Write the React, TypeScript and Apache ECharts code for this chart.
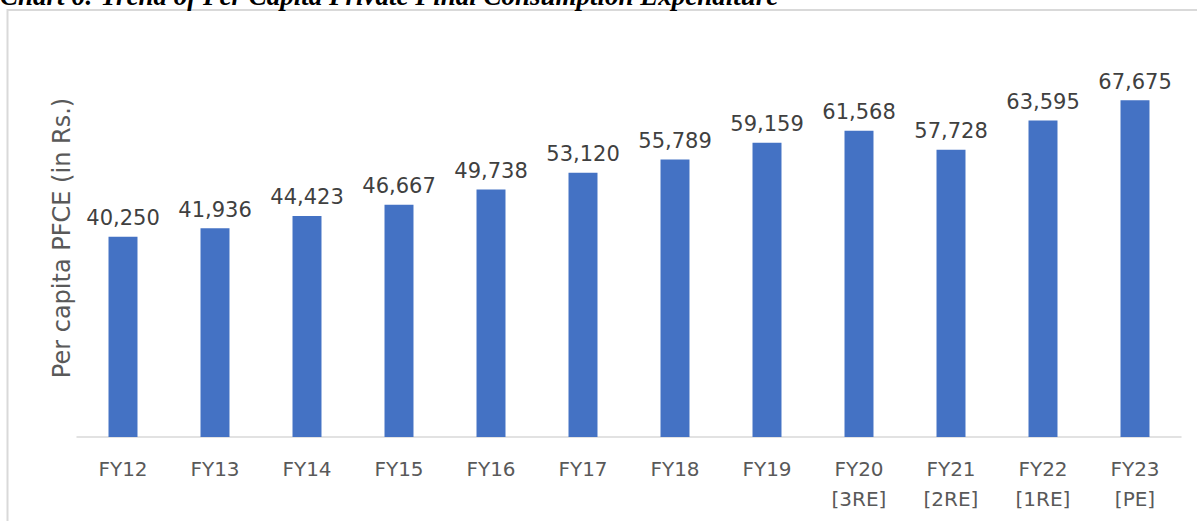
import React, { useEffect, useRef } from "react";
import * as echarts from "echarts";

const categories = ["FY12", "FY13", "FY14", "FY15", "FY16", "FY17", "FY18", "FY19", "FY20\n[3RE]", "FY21\n[2RE]", "FY22\n[1RE]", "FY23\n[PE]"];
const pfce = [40250, 41936, 44423, 46667, 49738, 53120, 55789, 59159, 61568, 57728, 63595, 67675];
const titleText = "Chart 6: Trend of Per Capita Private Final Consumption Expenditure";
const yName = "Per capita PFCE (in Rs.)";

const FONT = "'DejaVu Sans', Tahoma, sans-serif";

export default function App() {
  const ref = useRef<HTMLDivElement>(null);
  useEffect(() => {
    if (!ref.current) return;
    const chart = echarts.init(ref.current, undefined, { renderer: "svg" });
    chart.setOption({
      animation: false,
      backgroundColor: "#ffffff",
      graphic: [
        {
          type: "rect",
          shape: { x: 7.5, y: 10, width: 1300, height: 700 },
          style: { fill: "none", stroke: "#d9d9d9", lineWidth: 2 },
          silent: true,
        },
        {
          type: "text",
          x: 0,
          y: 9,
          style: {
            text: titleText,
            fontFamily: "'Liberation Serif', 'Times New Roman', serif",
            fontWeight: "bold",
            fontStyle: "italic",
            fontSize: 27,
            fill: "#000000",
            textVerticalAlign: "bottom",
            textAlign: "left",
          },
        },
      ],
      grid: { left: 77, right: 16, top: 39, bottom: 84 },
      xAxis: {
        type: "category",
        data: categories,
        axisLine: { show: true, lineStyle: { color: "#d9d9d9", width: 1.5 } },
        axisTick: { show: false },
        axisLabel: {
          color: "#595959",
          fontFamily: FONT,
          fontSize: 20,
          margin: 17,
          lineHeight: 30,
          interval: 0,
        },
      },
      yAxis: {
        type: "value",
        min: 0,
        max: 80000,
        name: yName,
        nameLocation: "middle",
        nameRotate: 90,
        nameGap: 3,
        nameTextStyle: { color: "#595959", fontFamily: FONT, fontSize: 24 },
        axisLine: { show: false },
        axisTick: { show: false },
        axisLabel: { show: false },
        splitLine: { show: false },
      },
      series: [
        {
          type: "bar",
          data: pfce,
          barWidth: "31.5%",
          itemStyle: { color: "#4472c4" },
          label: {
            show: true,
            position: "top",
            distance: 8,
            color: "#404040",
            fontFamily: FONT,
            fontSize: 21,
            formatter: (p: any) => Number(p.value).toLocaleString("en-US"),
          },
        },
      ],
    });
    return () => chart.dispose();
  }, []);
  return <div ref={ref} style={{ position: "fixed", left: 0, top: 0, width: 1197, height: 521 }} />;
}
